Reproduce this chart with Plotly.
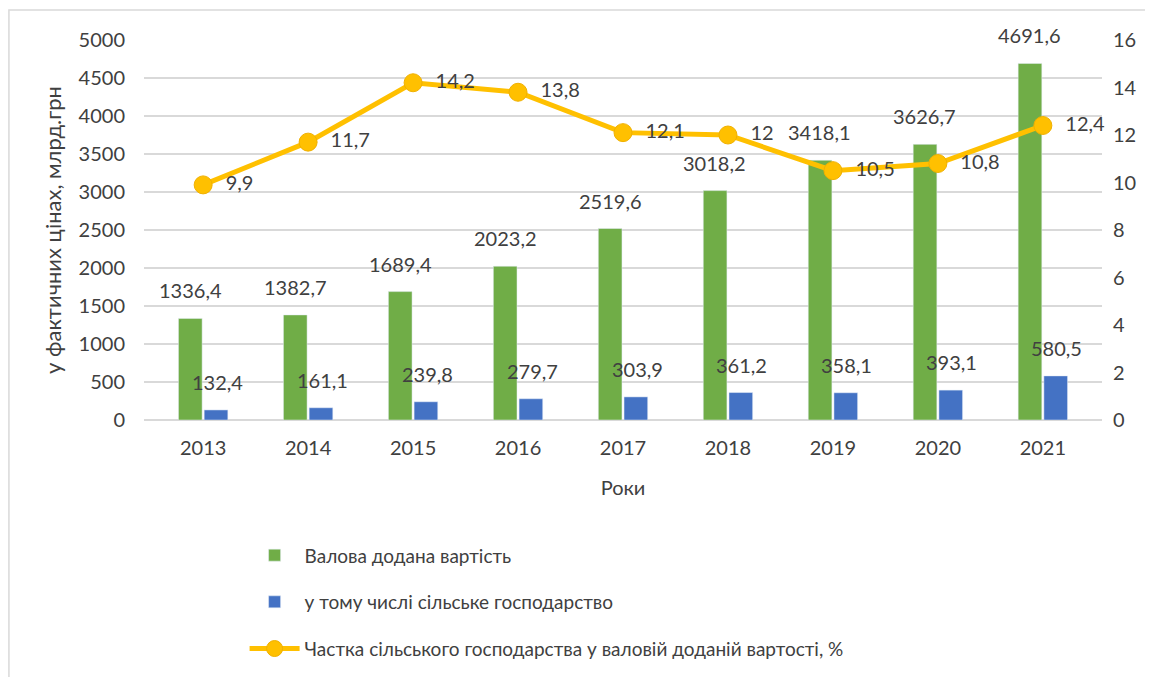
import plotly.graph_objects as go

# Data
years = ['2013', '2014', '2015', '2016', '2017', '2018', '2019', '2020', '2021']
gva = [1336.4, 1382.7, 1689.4, 2023.2, 2519.6, 3018.2, 3418.1, 3626.7, 4691.6]
agri = [132.4, 161.1, 239.8, 279.7, 303.9, 361.2, 358.1, 393.1, 580.5]
share = [9.9, 11.7, 14.2, 13.8, 12.1, 12.0, 10.5, 10.8, 12.4]

name_gva = 'Валова додана вартість'
name_agri = 'у тому числі сільське господарство'
name_share = 'Частка сільського господарства у валовій доданій вартості, %'


def fmt(v):
    s = f'{v:.1f}'
    if s.endswith('.0'):
        s = s[:-2]
    return s.replace('.', ',')


FONT = 'Lato, "Open Sans", sans-serif'
TXT = '#404040'

fig = go.Figure()

fig.add_trace(go.Bar(
    x=years, y=gva, name=name_gva,
    marker=dict(color='#70AD47'),
    legendgroup='a', legendrank=1,
))
fig.add_trace(go.Bar(
    x=years, y=agri, name=name_agri,
    marker=dict(color='#4472C4'),
    legendgroup='b', legendrank=2,
))
fig.add_trace(go.Scatter(
    x=years, y=share, name=name_share, yaxis='y2',
    mode='lines+markers+text',
    line=dict(color='#FFC000', width=5),
    marker=dict(size=18, color='#FFC000', line=dict(color='#F0B000', width=1)),
    text=['  ' + fmt(v) for v in share],
    textposition='middle right',
    textfont=dict(size=20, color=TXT, family=FONT),
    cliponaxis=False,
    legendgroup='c', legendrank=3,
))

# data labels on bars (category index positions)
for i, (g, a) in enumerate(zip(gva, agri)):
    fig.add_annotation(x=i, y=g, xref='x', yref='y', text=fmt(g), showarrow=False,
                       yanchor='bottom', yshift=14, xshift=-13,
                       font=dict(size=20, color=TXT, family=FONT))
    fig.add_annotation(x=i, y=a, xref='x', yref='y', text=fmt(a), showarrow=False,
                       yanchor='bottom', yshift=14, xshift=14,
                       font=dict(size=20, color=TXT, family=FONT))

# outer border of chart area
fig.add_shape(type='rect', xref='paper', yref='paper',
              x0=-0.141, x1=1.07, y0=-0.69, y1=1.079,
              line=dict(color='#D9D9D9', width=1.5), layer='below')

fig.update_layout(
    width=1153, height=677,
    margin=dict(l=136, r=59, t=32, b=265),
    paper_bgcolor='white', plot_bgcolor='white',
    font=dict(family=FONT, size=20, color=TXT),
    barmode='group', bargap=0.51, bargroupgap=0.08,
    showlegend=True,
    legend=dict(
        x=0.105, y=-0.306, xanchor='left', yanchor='top',
        orientation='v', font=dict(size=19, color=TXT, family=FONT),
        tracegroupgap=19, itemwidth=50,
        traceorder='grouped',
    ),
    xaxis=dict(
        type='category', showgrid=False, showline=False, ticks='',
        tickfont=dict(size=20, color=TXT), ticklabelstandoff=14,
        title=dict(text='Роки', font=dict(size=20, color=TXT), standoff=22),
    ),
    yaxis=dict(
        range=[0, 5000], dtick=500, showgrid=True, gridcolor='#D9D9D9',
        gridwidth=1.5, zeroline=True, zerolinecolor='#D9D9D9', zerolinewidth=1.5,
        showline=False, ticks='', tickfont=dict(size=20, color=TXT),
        ticklabelstandoff=18,
        title=dict(text='у фактичних цінах, млрд.грн', font=dict(size=22, color=TXT), standoff=10),
    ),
    yaxis2=dict(
        range=[0, 16], dtick=2, overlaying='y', side='right',
        showgrid=False, zeroline=False, showline=False, ticks='',
        tickfont=dict(size=20, color=TXT), ticklabelstandoff=10,
    ),
)

fig.write_html('out.html')
